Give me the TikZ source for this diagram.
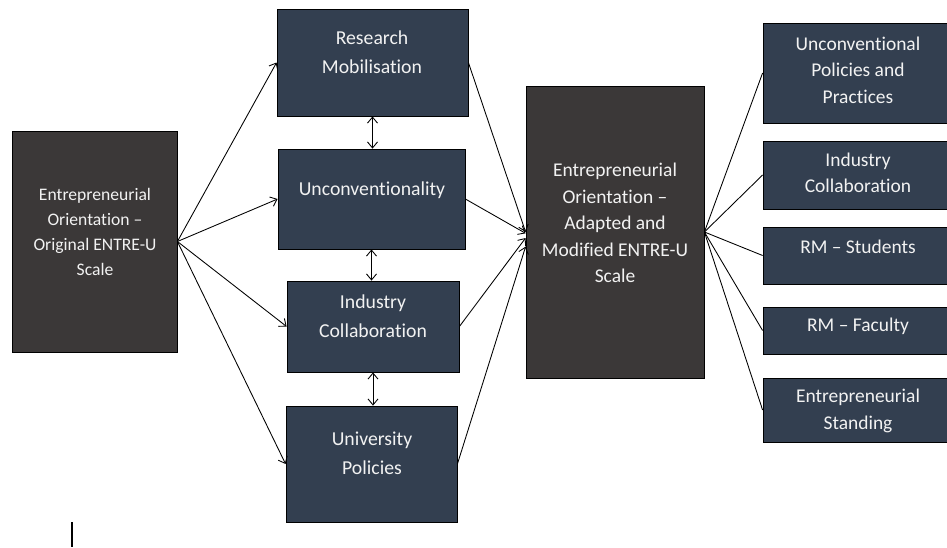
\documentclass[tikz,border=0pt]{standalone}
\usepackage{fontspec}
\setmainfont{Carlito}[Ligatures = {TeX, NoCommon}]
\usetikzlibrary{arrows.meta,fit}
\definecolor{slate}{HTML}{333F50}
\definecolor{charcoal}{HTML}{3B3838}
\definecolor{paletext}{HTML}{F2F2F2}

\begin{document}
\begin{tikzpicture}[x = 0.75pt, y = -0.75pt,
	greybox/.style = {draw = black, fill = charcoal, line width = 0.6pt, inner sep = 0pt},
	bluebox/.style = {draw = black, fill = slate, line width = 0.6pt, inner sep = 0pt},
	words/.style = {text = paletext, align = center, font = \fontsize{14.6}{19.9}\selectfont},
	midwords/.style = {words, font = \fontsize{14.8}{21.75}\selectfont},
	leftwords/.style = {words, font = \fontsize{13.2}{18.75}\selectfont},
	>={Straight Barb[length=4.5pt,width=7.5pt]}, line width = 0.65pt]
	\useasboundingbox (0,0) rectangle (947,547);
	% outer scales
	\node [greybox, fit = {(12,131) (177,352)}] (orig) {};
	\node [greybox, fit = {(526,86) (704,378)}] (adapted) {};
	% dimensions of the original scale
	\node [bluebox, fit = {(277,9) (468,116)}] (rm) {};
	\node [bluebox, fit = {(278,149) (465,249)}] (unc) {};
	\node [bluebox, fit = {(287,281) (459,372)}] (ic) {};
	\node [bluebox, fit = {(286,406) (457,522)}] (up) {};
	% dimensions of the adapted scale
	\node [bluebox, fit = {(763,23) (953,123)}] (upp) {};
	\node [bluebox, fit = {(763,141) (953,209)}] (icr) {};
	\node [bluebox, fit = {(763,227) (953,284)}] (rms) {};
	\node [bluebox, fit = {(763,307) (953,354)}] (rmf) {};
	\node [bluebox, fit = {(763,378) (953,442)}] (ens) {};
	% texts
	\node [leftwords] (origtext) at (95,232) {Entrepreneurial\\Orientation --\\Original ENTRE-U\\Scale};
	\node [words] (adaptedtext) at (615,223) {Entrepreneurial\\Orientation --\\Adapted and\\Modified ENTRE-U\\Scale};
	\node [midwords] (rmtext) at (372,52) {Research\\Mobilisation};
	\node [midwords] (unctext) at (372,190) {Unconventionality};
	\node [midwords] (ictext) at (373,316) {Industry\\Collaboration};
	\node [midwords] (uptext) at (372,453) {University\\Policies};
	\node [words] (upptext) at (858,70) {Unconventional\\Policies and\\Practices};
	\node [words] (icrtext) at (858,173) {Industry\\Collaboration};
	\node [words] (rmstext) at (858,247) {RM -- Students};
	\node [words] (rmftext) at (858,326) {RM -- Faculty};
	\node [words] (enstext) at (858,411) {Entrepreneurial\\Standing};
	% arrows
	\foreach \n in {rm,unc,ic,up}{
	\draw [->] (orig.east) -- (\n.west);
	}
	\draw [<->] (rm.south) -- (rm.south |- unc.north);
	\draw [<->] (unc.south) -- (unc.south |- ic.north);
	\draw [<->] (ic.south) -- (ic.south |- up.north);
	\draw [->] (rm.east) -- (adapted.west);
	\draw [->] (unc.east) -- ([yshift = -1pt]adapted.west);
	\draw [->] (ic.east) -- ([yshift = -4.5pt]adapted.west);
	\draw [->] (up.east) -- ([yshift = -11pt]adapted.west);
	\foreach \n in {upp,icr,rms,rmf,ens}{
	\draw (adapted.east) -- (\n.west);
	}
	\draw [line width = 1.1pt] (72,522) -- (72,547);
\end{tikzpicture}
\end{document}
